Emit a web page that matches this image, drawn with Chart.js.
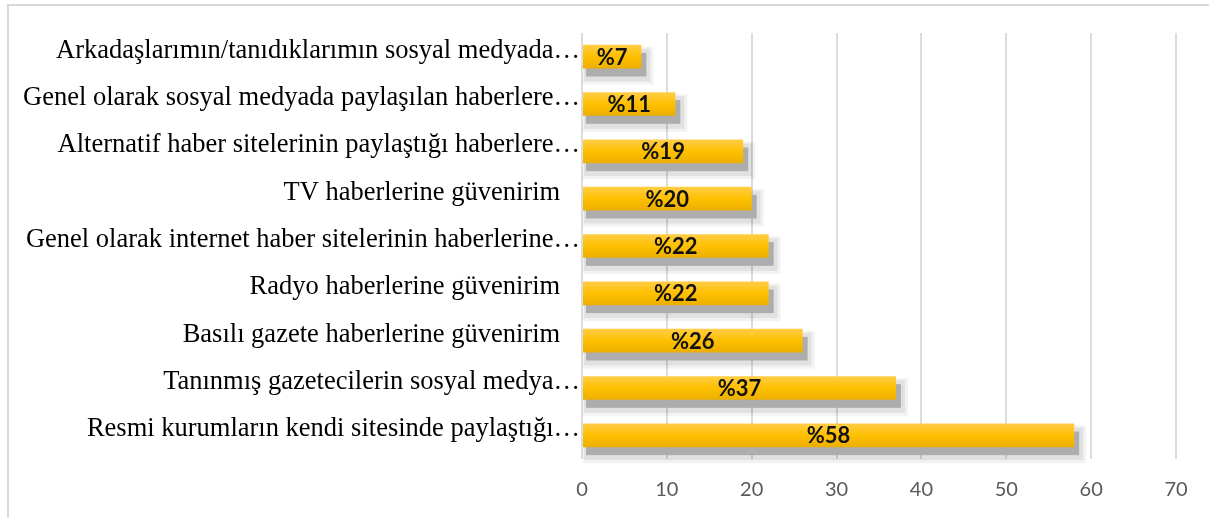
<!DOCTYPE html>
<html>
<head>
<meta charset="utf-8">
<script src="https://cdn.jsdelivr.net/npm/chart.js@4.4.1/dist/chart.umd.min.js"></script>
<style>
    html, body { margin: 0; padding: 0; background: #fff; }
    #wrap { position: relative; width: 1209px; height: 518px; }
    #frame { position: absolute; left: 7px; top: 4px; right: 0; bottom: 0; border-left: 2px solid #d9d9d9; border-top: 2px solid #d9d9d9; pointer-events: none; }
</style>
</head>
<body>
<div id="wrap">
    <canvas id="myChart" width="1209" height="518"></canvas>
    <div id="frame"></div>
</div>
<script>
const categories = [
    'Arkadaşlarımın/tanıdıklarımın sosyal medyada…',
    'Genel olarak sosyal medyada paylaşılan haberlere…',
    'Alternatif haber sitelerinin paylaştığı haberlere…',
    'TV haberlerine güvenirim   ',
    'Genel olarak internet haber sitelerinin haberlerine…',
    'Radyo haberlerine güvenirim   ',
    'Basılı gazete haberlerine güvenirim   ',
    'Tanınmış gazetecilerin sosyal medya…',
    'Resmi kurumların kendi sitesinde paylaştığı…'
];
const values = [7, 11, 19, 20, 22, 22, 26, 37, 58];
const xTicks = [0, 10, 20, 30, 40, 50, 60, 70];

document.addEventListener('DOMContentLoaded', () => {
    const ctx = document.getElementById('myChart').getContext('2d');

    // gray drop shadow behind each bar, like the Excel original
    const barShadow = {
        id: 'barShadow',
        beforeDatasetsDraw(chart) {
            const c = chart.ctx;
            chart.getDatasetMeta(0).data.forEach(bar => {
                const top = bar.y - bar.height / 2;
                const left = bar.base;
                const w = bar.x - bar.base;
                c.save();
                c.fillStyle = 'rgba(0,0,0,0.05)';
                c.fillRect(left, top + 2, w + 12, bar.height + 14);
                c.fillStyle = 'rgba(0,0,0,0.07)';
                c.fillRect(left + 1, top + 4, w + 8, bar.height + 9);
                c.fillStyle = '#adadad';
                c.fillRect(left + 3, top + 8, w + 2, bar.height);
                c.restore();
            });
        }
    };

    // "%xx" labels in the middle of each bar
    const valueLabels = {
        id: 'valueLabels',
        afterDatasetsDraw(chart) {
            const c = chart.ctx;
            c.save();
            c.font = "bold 22px Lato, sans-serif";
            c.fillStyle = '#111';
            c.textAlign = 'center';
            c.textBaseline = 'middle';
            chart.getDatasetMeta(0).data.forEach((bar, i) => {
                c.fillText('%' + values[i], (bar.base + bar.x) / 2, bar.y + 1);
            });
            c.restore();
        }
    };

    new Chart(ctx, {
        type: 'bar',
        data: {
            labels: categories,
            datasets: [{
                data: values,
                backgroundColor: (context) => {
                    const chart = context.chart;
                    const yScale = chart.scales.y;
                    if (!yScale || context.dataIndex === undefined) return '#FFC000';
                    const y = yScale.getPixelForValue(context.dataIndex);
                    if (!Number.isFinite(y)) return '#FFC000';
                    const g = chart.ctx.createLinearGradient(0, y - 12, 0, y + 12);
                    g.addColorStop(0, '#FFCD48');
                    g.addColorStop(0.5, '#FFC000');
                    g.addColorStop(1, '#EBAE00');
                    return g;
                },
                borderWidth: 0,
                barPercentage: 0.5,
                categoryPercentage: 1
            }]
        },
        options: {
            indexAxis: 'y',
            responsive: false,
            animation: false,
            layout: { padding: { top: 33, right: 33, bottom: 0, left: 0 } },
            plugins: {
                legend: { display: false },
                tooltip: { enabled: false }
            },
            scales: {
                x: {
                    min: 0,
                    max: 70,
                    afterBuildTicks: (scale) => { scale.ticks = xTicks.map(v => ({ value: v })); },
                    afterFit: (scale) => { scale.height = 59; },
                    grid: { color: '#dcdcdc', lineWidth: 2, drawTicks: false },
                    border: { display: false },
                    ticks: {
                        padding: 19,
                        color: '#595959',
                        font: { family: 'Lato, sans-serif', size: 20 }
                    }
                },
                y: {
                    afterFit: (scale) => { scale.width = 582; },
                    grid: { display: false, drawTicks: false },
                    border: { display: false },
                    ticks: {
                        padding: 2,
                        labelOffset: -6,
                        color: '#000',
                        font: { family: "'Liberation Serif', 'Times New Roman', serif", size: 26.5 }
                    }
                }
            }
        },
        plugins: [barShadow, valueLabels]
    });
});
</script>
</body>
</html>
